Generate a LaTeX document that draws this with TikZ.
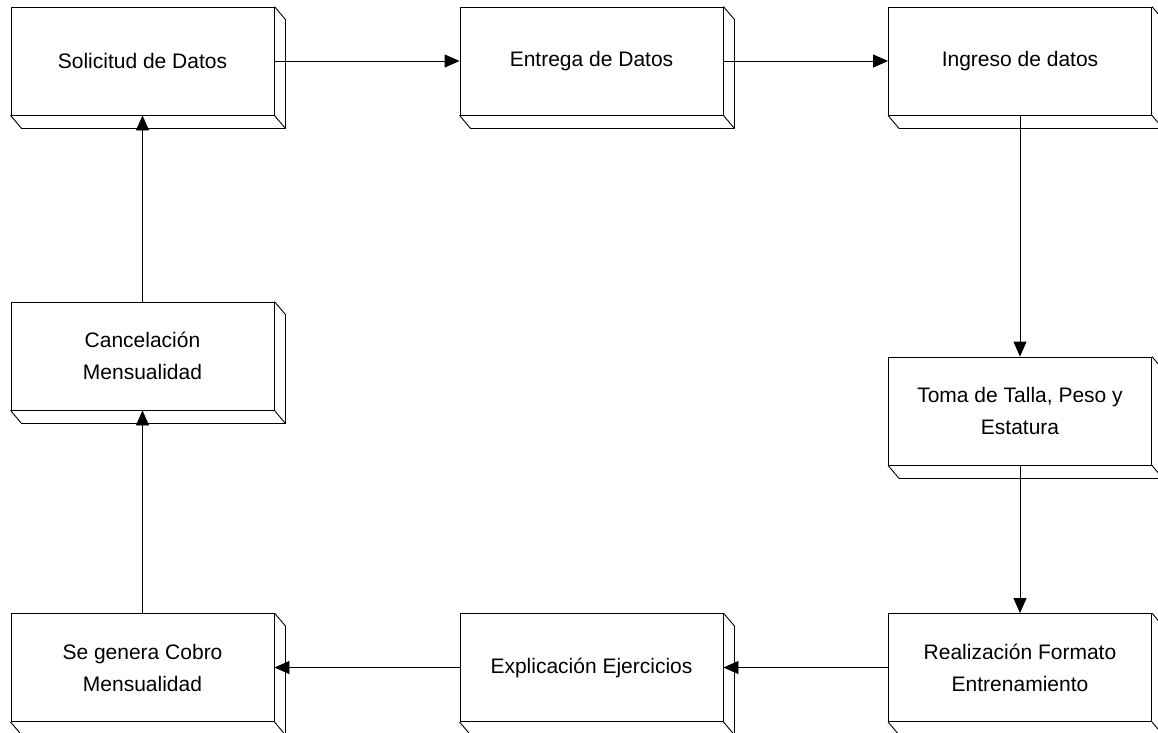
\documentclass[tikz,border=0pt]{standalone}
\usepackage{fontspec}
\setmainfont{Liberation Sans}
\usetikzlibrary{arrows.meta}
\begin{document}
\begin{tikzpicture}[x=1pt,y=1pt,
  stepbox/.style={draw, line width=0.9pt, fill=white, minimum width=263pt, minimum height=108pt,
    inner sep=0pt, align=center, font=\fontsize{21}{32}\selectfont},
  arr/.style={line width=0.9pt, -{Triangle[length=15pt,width=13pt]}}]
\useasboundingbox (0,0) rectangle (1158,-732);
% process boxes (front faces)
\node[stepbox] (sol) at (142.5,-61) {Solicitud de Datos};
\node[stepbox] (ent) at (591.5,-61) {Entrega de Datos};
\node[stepbox] (ing) at (1020,-61) {Ingreso de datos};
\node[stepbox] (can) at (142.5,-356) {Cancelación\\Mensualidad};
\node[stepbox] (tom) at (1020,-411) {Toma de Talla, Peso y\\Estatura};
\node[stepbox] (gen) at (142.5,-667.5) {Se genera Cobro\\Mensualidad};
\node[stepbox] (exp) at (591.5,-667.5) {Explicación Ejercicios};
\node[stepbox] (rea) at (1020,-667.5) {Realización Formato\\Entrenamiento};
% side and bottom faces giving the boxes depth
\foreach \n in {sol,ent,ing,can,tom,gen,exp,rea}{
  \draw[line width=0.9pt] (\n.north east) -- ++(11,-13) -- ([shift={(11,-13)}]\n.south east)
    -- ([shift={(11,-13)}]\n.south west) -- (\n.south west);
  \draw[line width=0.9pt] (\n.south east) -- ++(11,-13);
}
% flow connectors
\draw[arr] (sol) -- (ent);
\draw[arr] (ent) -- (ing);
\draw[arr] (ing) -- (tom);
\draw[arr] (tom) -- (rea);
\draw[arr] (rea) -- (exp);
\draw[arr] (exp) -- (gen);
\draw[arr] (gen) -- (can);
\draw[arr] (can) -- (sol);
\end{tikzpicture}
\end{document}
